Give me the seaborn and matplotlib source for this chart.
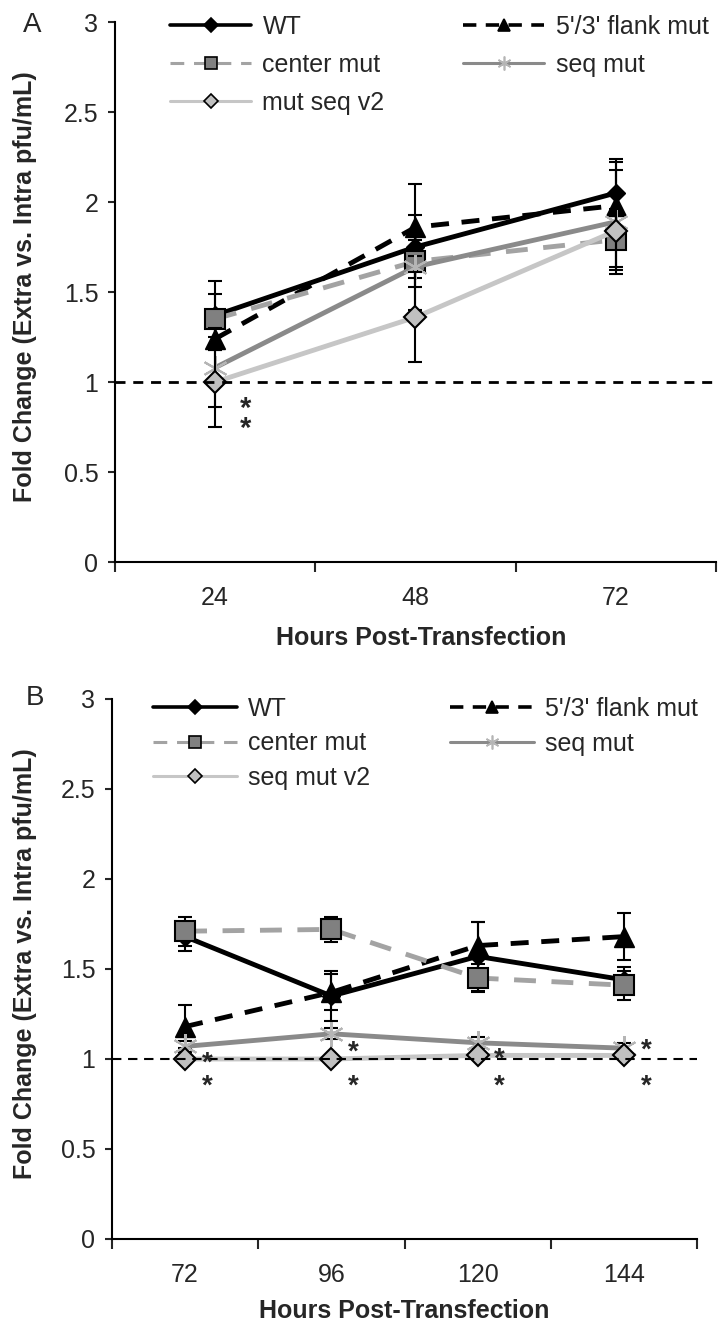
import numpy as np
import matplotlib
matplotlib.use("Agg")
import matplotlib.pyplot as plt
import seaborn as sns
from matplotlib.lines import Line2D

# ---------------- data ----------------
hours_a = ["24", "48", "72"]
wt_a = [1.37, 1.75, 2.05]
wt_a_err = [0.19, 0.35, 0.19]
flank_a = [1.24, 1.86, 1.98]
flank_a_err = [0.06, 0.07, 0.24]
center_a = [1.35, 1.67, 1.79]
center_a_err = [0.14, 0.14, 0.17]
seqmut_a = [1.08, 1.64, 1.89]
seqmut_a_err = [0.22, 0.06, 0.29]
v2_a = [1.00, 1.36, 1.84]
v2_a_err = [0.25, 0.25, 0.20]
star_a_idx = 0
star_a_y = [0.89, 0.78]

hours_b = ["72", "96", "120", "144"]
wt_b = [1.68, 1.35, 1.57, 1.44]
wt_b_err = [0.08, 0.14, 0.19, 0.07]
flank_b = [1.18, 1.37, 1.63, 1.68]
flank_b_err = [0.12, 0.10, 0.13, 0.13]
center_b = [1.71, 1.72, 1.45, 1.41]
center_b_err = [0.08, 0.07, 0.08, 0.08]
seqmut_b = [1.07, 1.14, 1.09, 1.06]
seqmut_b_err = [0.03, 0.03, 0.03, 0.03]
v2_b = [1.00, 1.00, 1.02, 1.02]
v2_b_err = [0.02, 0.02, 0.02, 0.02]
star_b_idx = [0, 1, 2, 3, 0, 1, 2, 3]
star_b_y = [1.02, 1.08, 1.04, 1.09, 0.89, 0.89, 0.89, 0.89]

labels_a = ["WT", "center mut", "mut seq v2", "5'/3' flank mut", "seq mut"]
labels_b = ["WT", "center mut", "seq mut v2", "5'/3' flank mut", "seq mut"]
yticks = [0, 0.5, 1, 1.5, 2, 2.5, 3]
ytick_labels = ["0", "0.5", "1", "1.5", "2", "2.5", "3"]

# ---------------- style ----------------
sns.set_style("ticks")
plt.rcParams["font.family"] = ["Liberation Sans", "DejaVu Sans"]
plt.rcParams["axes.linewidth"] = 1.5

ASTER = (6, 2, 0)
styles = {
    "WT": dict(color="black", lw=3.5, ls="-", marker="D", ms=9,
               mfc="black", mec="black", mew=1.0, z=3),
    "flank": dict(color="black", lw=3.5, ls=(0, (3.7, 2.6)), marker="^", ms=15,
                  mfc="black", mec="black", mew=1.0, z=4),
    "center": dict(color="#a3a3a3", lw=3.5, ls=(0, (4.5, 3.2)), marker="s", ms=15,
                   mfc="#808080", mec="black", mew=1.5, z=5),
    "seq": dict(color="#8a8a8a", lw=3.5, ls="-", marker=ASTER, ms=18,
                mfc="#b5b5b5", mec="#b5b5b5", mew=1.5, z=6),
    "v2": dict(color="#c6c6c6", lw=3.5, ls="-", marker="D", ms=11,
               mfc="#c0c0c0", mec="black", mew=1.5, z=7),
}
legend_ms = {"WT": 7, "flank": 9, "center": 9, "seq": 10, "v2": 7}


def draw_series(ax, ys, errs, key):
    st = styles[key]
    xs = np.arange(len(ys))
    ax.errorbar(xs, ys, yerr=errs, fmt="none", ecolor="black",
                elinewidth=1.5, capsize=5, capthick=1.5, zorder=st["z"] - 0.5)
    sns.lineplot(x=xs, y=ys, ax=ax, errorbar=None, color=st["color"],
                 linewidth=st["lw"], linestyle=st["ls"], marker=st["marker"],
                 markersize=st["ms"], markerfacecolor=st["mfc"],
                 markeredgecolor=st["mec"], markeredgewidth=st["mew"],
                 zorder=st["z"])


def handle(key):
    st = styles[key]
    lw = 2.6 if key in ("WT", "flank") else 2.2
    return Line2D([], [], color=st["color"], lw=lw, ls=st["ls"],
                  marker=st["marker"], ms=legend_ms[key], mfc=st["mfc"],
                  mec=st["mec"], mew=1.2)


def setup_axis(ax, hours, ref_lw, ref_dash):
    n = len(hours)
    ax.set_xlim(-0.5, n - 0.5)
    ax.set_ylim(0, 3)
    ax.set_xticks(np.arange(n + 1) - 0.5)
    ax.set_xticklabels([""] * (n + 1))
    ax.set_xticks(np.arange(n), minor=True)
    ax.set_xticklabels(hours, minor=True, fontsize=18)
    ax.set_yticks(yticks)
    ax.set_yticklabels(ytick_labels, fontsize=18)
    ax.tick_params(axis="x", which="major", length=7, width=1.5, direction="out")
    ax.tick_params(axis="x", which="minor", length=0, pad=17)
    ax.tick_params(axis="y", which="major", length=5, width=1.5, direction="out", pad=7)
    for s in ("top", "right"):
        ax.spines[s].set_visible(False)
    for s in ("left", "bottom"):
        ax.spines[s].set_linewidth(1.5)
        ax.spines[s].set_color("black")
    ax.axhline(1.0, color="black", lw=ref_lw, ls=(0, ref_dash), zorder=10)
    ax.set_ylabel("Fold Change (Extra vs. Intra pfu/mL)", fontsize=18,
                  fontweight="bold")
    ax.set_xlabel("Hours Post-Transfection", fontsize=18, fontweight="bold")
    ax.xaxis.label.set_va("center")
    ax.yaxis.label.set_va("center")


def add_legends(ax, labels, fig, x1, x2, ytop, spacing, hl):
    keys1 = ["WT", "center", "v2"]
    keys2 = ["flank", "seq"]
    leg1 = ax.legend([handle(k) for k in keys1], labels[:3], loc="upper left",
                     bbox_to_anchor=(x1, ytop), bbox_transform=fig.transFigure,
                     frameon=False, fontsize=18, handlelength=hl,
                     handletextpad=0.45, borderpad=0, borderaxespad=0,
                     labelspacing=spacing)
    ax.add_artist(leg1)
    ax.legend([handle(k) for k in keys2], labels[3:], loc="upper left",
              bbox_to_anchor=(x2, ytop), bbox_transform=fig.transFigure,
              frameon=False, fontsize=18, handlelength=hl,
              handletextpad=0.45, borderpad=0, borderaxespad=0,
              labelspacing=spacing)


def add_stars(ax, idx, ys, dx, fs):
    for i, y in zip(idx, ys):
        ax.annotate("*", xy=(i + dx, y), xytext=(0, -11), textcoords="offset points",
                    ha="center", va="baseline", fontsize=fs, fontweight="bold",
                    zorder=12)


def add_star_pair(ax, i, ys, dx, fs):
    # two stacked significance marks at the same time point, as one text
    ymid = (ys[0] + ys[1]) / 2
    ax.annotate("*\n*", xy=(i + dx, ymid), xytext=(0, -5), textcoords="offset points",
                ha="center", va="center", fontsize=fs, fontweight="bold",
                linespacing=0.62, zorder=12)


W, H = 719, 1324
fig = plt.figure(figsize=(W / 100, H / 100), dpi=100)

# ---- panel A ----
axA = fig.add_axes([115 / W, 1 - 562 / H, (716 - 115) / W, 540 / H])
draw_series(axA, wt_a, wt_a_err, "WT")
draw_series(axA, flank_a, flank_a_err, "flank")
draw_series(axA, center_a, center_a_err, "center")
draw_series(axA, seqmut_a, seqmut_a_err, "seq")
draw_series(axA, v2_a, v2_a_err, "v2")
setup_axis(axA, hours_a, 2.0, (3.6, 2.8))
axA.yaxis.set_label_coords((25 - 115) / 601, 0.51)
axA.xaxis.set_label_coords(0.51, (562 - 638) / 540)
add_star_pair(axA, star_a_idx, star_a_y, 0.15, 21)
add_legends(axA, labels_a, fig, 170 / W, 463 / W, 1 - 15 / H, 0.56, 3.25)
fig.text(32 / W, 1 - 25 / H, "A", fontsize=20, ha="center", va="center")

# ---- panel B ----
axB = fig.add_axes([112 / W, 1 - 1239 / H, (697 - 112) / W, 540 / H])
draw_series(axB, wt_b, wt_b_err, "WT")
draw_series(axB, flank_b, flank_b_err, "flank")
draw_series(axB, center_b, center_b_err, "center")
draw_series(axB, seqmut_b, seqmut_b_err, "seq")
draw_series(axB, v2_b, v2_b_err, "v2")
setup_axis(axB, hours_b, 1.5, (4.5, 3.2))
axB.yaxis.set_label_coords((25 - 112) / 585, 0.51)
axB.xaxis.set_label_coords(0.5, (1239 - 1311) / 540)
add_stars(axB, star_b_idx, star_b_y, 0.15, 20)
add_legends(axB, labels_b, fig, 153 / W, 450 / W, 1 - 697 / H, 0.42, 3.35)
fig.text(35 / W, 1 - 698 / H, "B", fontsize=20, ha="center", va="center")

fig.savefig("out.png", dpi=100)
